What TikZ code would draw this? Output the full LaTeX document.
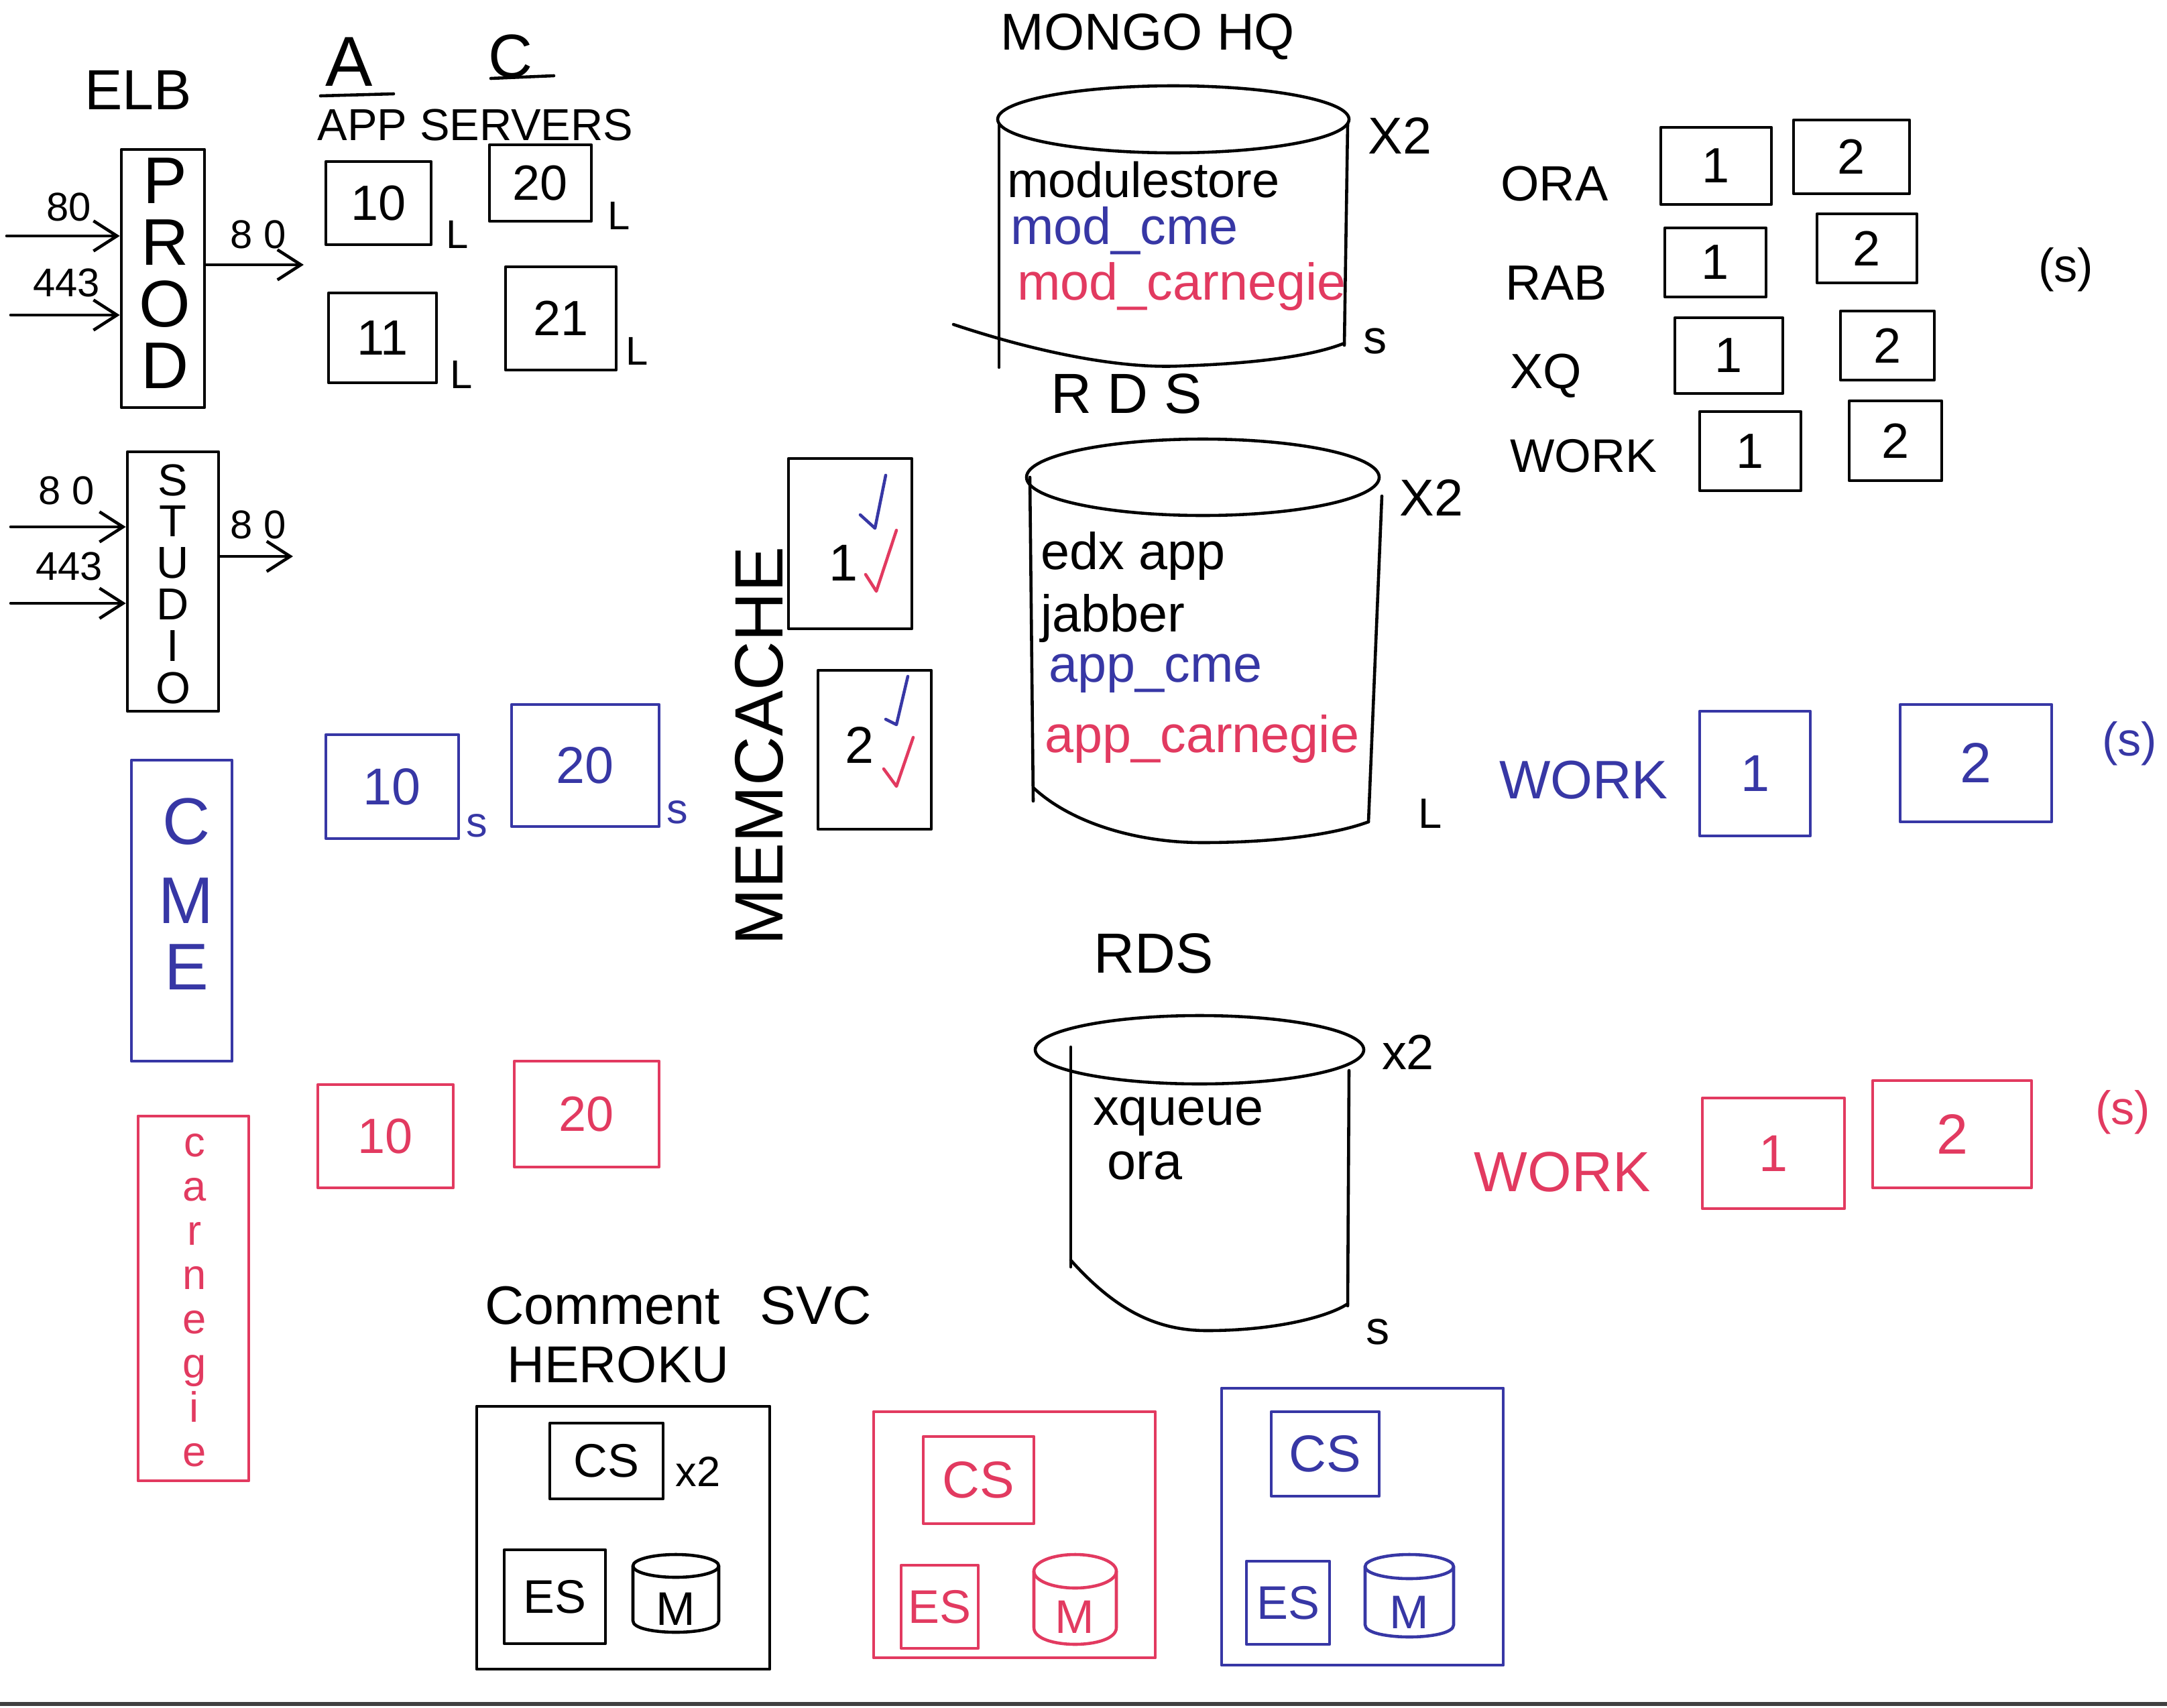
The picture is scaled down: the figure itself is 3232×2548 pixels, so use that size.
\documentclass[tikz,border=0pt]{standalone}
\usepackage{fontspec}
\setmainfont{Liberation Sans}
\usetikzlibrary{arrows.meta}
\definecolor{pblue}{RGB}{55,55,165}
\definecolor{pred}{RGB}{226,58,96}
\newcommand{\fs}[1]{\fontsize{#1}{#1}\selectfont}
% \mybox{name}{x1}{y1}{x2}{y2}{colour}{text}{font size}
\newcommand{\mybox}[8]{%
  \node[box,draw=#6,text=#6,font=\fs{#8},
        minimum width={(#4-#2)*0.1mm},minimum height={(#5-#3)*0.1mm}]
        (#1) at ({(#2+#4)/2},{(#3+#5)/2}) {#7};}
% \mycyl{left}{right}{top}{bottom}{ry}{colour}
\newcommand{\mycyl}[6]{%
  \draw[#6] ({(#1+#2)/2},{#3+#5}) ellipse [x radius={(#2-#1)/2}, y radius=#5];
  \draw[#6] (#1,{#3+#5}) -- (#1,{#4-#5}) .. controls (#1,{#4+#5/3}) and (#2,{#4+#5/3}) .. (#2,{#4-#5}) -- (#2,{#3+#5});}
\begin{document}
\begin{tikzpicture}[x=0.01cm,y=-0.01cm,line width=1.3pt,line cap=round,line join=round,
  box/.style={rectangle,inner sep=0pt},
  lbl/.style={inner sep=0pt},
  arr/.style={-{Straight Barb[length=3.5mm,width=4.5mm]}}]
\useasboundingbox (0,0) rectangle (3232,2548);
\fill[white] (0,0) rectangle (3232,2548);
\draw[black!75,line width=1.6pt] (0,2542) -- (3232,2542);

% ---------------- ELB ----------------
\node[lbl,font=\fs{24}] (elb) at (206,134) {ELB};
\mybox{prod}{181}{223}{305}{608}{black}{}{20}
\foreach \c [count=\i] in {P,R,O,D}
  \node[lbl,font=\fs{28}] (prod\i) at (246,{270+(\i-1)*92}) {\c};
\coordinate (pin1) at (10,352);
\coordinate (pin2) at (16,470);
\coordinate (pout) at (453,395);
\draw[arr] (pin1) -- (pin1 -| prod.west);
\draw[arr] (pin2) -- (pin2 -| prod.west);
\draw[arr] (pout -| prod.east) -- (pout);
\node[lbl,font=\fs{17}] (p80a) at (103,309) {80};
\node[lbl,font=\fs{17}] (p443) at (99,422) {443};
\node[lbl,font=\fs{17}] (p80b) at (385,350) {8 0};

\mybox{studio}{190}{674}{326}{1061}{black}{}{20}
\foreach \c [count=\i] in {S,T,U,D,I,O}
  \node[lbl,font=\fs{19}] (stu\i) at (258,{716+(\i-1)*62}) {\c};
\coordinate (sin1) at (16,786);
\coordinate (sin2) at (16,900);
\coordinate (sout) at (437,830);
\draw[arr] (sin1) -- (sin1 -| studio.west);
\draw[arr] (sin2) -- (sin2 -| studio.west);
\draw[arr] (sout -| studio.east) -- (sout);
\node[lbl,font=\fs{17}] (s80a) at (99,732) {8 0};
\node[lbl,font=\fs{17}] (s443) at (103,845) {443};
\node[lbl,font=\fs{17}] (s80b) at (385,783) {8 0};

% ---------------- app servers ----------------
\node[lbl,font=\fs{30}] (la) at (521,92) {A};
\draw (478,143) -- (587,140);
\node[lbl,font=\fs{26}] (lc) at (762,84) {C};
\draw (732,117) -- (826,113);
\node[lbl,font=\fs{19}] (appsrv) at (709,186) {APP SERVERS};
\mybox{a10}{486}{241}{643}{365}{black}{10}{21}
\mybox{a20}{730}{216}{882}{330}{black}{20}{21}
\mybox{a11}{490}{437}{651}{571}{black}{11}{21}
\mybox{a21}{754}{398}{919}{552}{black}{21}{21}
\node[lbl,font=\fs{17}] (la10) at (682,350) {L};
\node[lbl,font=\fs{17}] (la20) at (923,322) {L};
\node[lbl,font=\fs{17}] (la11) at (688,559) {L};
\node[lbl,font=\fs{17}] (la21) at (950,524) {L};

% ---------------- CME ----------------
\mybox{cme}{196}{1134}{346}{1583}{pblue}{}{20}
\foreach \c/\yy [count=\i] in {C/1226,M/1344,E/1443}
  \node[lbl,font=\fs{28},text=pblue] (cme\i) at (278,\yy) {\c};
\mybox{cme10}{486}{1096}{684}{1251}{pblue}{10}{22}
\mybox{cme20}{763}{1051}{983}{1233}{pblue}{20}{22}
\node[lbl,font=\fs{18},text=pblue] (scme10) at (711,1232) {s};
\node[lbl,font=\fs{18},text=pblue] (scme20) at (1010,1212) {s};

% ---------------- Carnegie ----------------
\mybox{carn}{206}{1665}{371}{2209}{pred}{}{20}
\foreach \c [count=\i] in {c,a,r,n,e,g,i,e}
  \node[lbl,font=\fs{18},text=pred,anchor=base] (car\i) at (290,{1725+(\i-1)*66}) {\c};
\mybox{car10}{474}{1618}{676}{1772}{pred}{10}{21}
\mybox{car20}{767}{1583}{983}{1741}{pred}{20}{21}

% ---------------- memcache ----------------
\node[lbl,font=\fs{29},rotate=90] (memc) at (1132,1113) {MEMCACHE};
\mybox{mc1}{1176}{684}{1360}{938}{black}{}{20}
\mybox{mc2}{1220}{1000}{1389}{1237}{black}{}{20}
\node[lbl,font=\fs{22}] (mc1t) at (1258,840) {1};
\node[lbl,font=\fs{22}] (mc2t) at (1282,1111) {2};
\draw[pblue] (1283,768) -- (1305,788) -- (1321,709);
\draw[pred] (1291,857) -- (1307,882) -- (1337,791);
\draw[pblue] (1321,1073) -- (1337,1081) -- (1354,1009);
\draw[pred] (1318,1147) -- (1337,1173) -- (1362,1100);

% ---------------- Mongo HQ ----------------
\node[lbl,font=\fs{22}] (mongo) at (1712,55) {MONGO HQ};
\draw (1750,178) ellipse [x radius=262, y radius=50];
\draw (1490,185) -- (1490,548);
\draw (2010,185) -- (2005,515);
\draw (1422,484) .. controls (1560,530) and (1680,550) .. (1760,546) .. controls (1880,542) and (1960,530) .. (2005,512);
\node[lbl,font=\fs{21},anchor=west] (modst) at (1500,268) {modulestore};
\node[lbl,font=\fs{22},anchor=west,text=pblue] (modcme) at (1505,344) {mod\_cme};
\node[lbl,font=\fs{22},anchor=west,text=pred] (modcar) at (1515,427) {mod\_carnegie};
\node[lbl,font=\fs{22}] (mx2) at (2088,202) {X2};
\node[lbl,font=\fs{20}] (ms) at (2051,509) {s};

% ---------------- RDS 1 ----------------
\node[lbl,font=\fs{24}] (rds1) at (1680,587) {R D S};
\draw (1794,712) ellipse [x radius=263, y radius=57];
\draw (1536,712) -- (1541,1195);
\draw (2061,740) -- (2041,1226);
\draw (1541,1175) .. controls (1600,1230) and (1700,1257) .. (1793,1257) .. controls (1900,1257) and (1990,1245) .. (2041,1226);
\node[lbl,font=\fs{22},anchor=west] (edx) at (1550,829) {edx app};
\node[lbl,font=\fs{22},anchor=west] (jab) at (1550,922) {jabber};
\node[lbl,font=\fs{22},anchor=west,text=pblue] (appcme) at (1562,1005) {app\_cme};
\node[lbl,font=\fs{22},anchor=west,text=pred] (appcar) at (1556,1102) {app\_carnegie};
\node[lbl,font=\fs{22}] (rx2) at (2135,742) {X2};
\node[lbl,font=\fs{18}] (rl) at (2133,1214) {L};

% ---------------- RDS 2 ----------------
\node[lbl,font=\fs{24}] (rds2) at (1721,1422) {RDS};
\draw (1789,1566) ellipse [x radius=245, y radius=51];
\draw (1597,1562) -- (1597,1890);
\draw (2012,1597) -- (2010,1948);
\draw (1597,1880) .. controls (1660,1950) and (1720,1985) .. (1800,1985) .. controls (1900,1985) and (1980,1965) .. (2010,1945);
\node[lbl,font=\fs{22},anchor=west] (xq) at (1628,1666) {xqueue};
\node[lbl,font=\fs{22},anchor=west] (ora) at (1649,1739) {ora};
\node[lbl,font=\fs{21}] (r2x2) at (2100,1570) {x2};
\node[lbl,font=\fs{20}] (r2s) at (2055,1987) {s};

% ---------------- workers ----------------
\node[lbl,font=\fs{21},anchor=west] (tora) at (2236,274) {ORA};
\node[lbl,font=\fs{21},anchor=west] (trab) at (2243,422) {RAB};
\node[lbl,font=\fs{21},anchor=west] (txq) at (2250,561) {XQ};
\node[lbl,font=\fs{20},anchor=west] (twork) at (2250,680) {WORK};
\mybox{ora1}{2477}{190}{2642}{305}{black}{1}{21}
\mybox{ora2}{2675}{179}{2848}{289}{black}{2}{21}
\mybox{rab1}{2483}{340}{2634}{443}{black}{1}{21}
\mybox{rab2}{2710}{319}{2859}{422}{black}{2}{21}
\mybox{xq1}{2498}{474}{2659}{587}{black}{1}{21}
\mybox{xq2}{2745}{464}{2885}{567}{black}{2}{21}
\mybox{wk1}{2535}{614}{2686}{732}{black}{1}{21}
\mybox{wk2}{2758}{598}{2896}{717}{black}{2}{21}
\node[lbl,font=\fs{20}] (ss1) at (3081,402) {(s)};

\node[lbl,font=\fs{23},text=pblue] (bwork) at (2362,1164) {WORK};
\mybox{wb1}{2535}{1061}{2700}{1247}{pblue}{1}{22}
\mybox{wb2}{2834}{1051}{3060}{1226}{pblue}{2}{24}
\node[lbl,font=\fs{20},text=pblue] (ss2) at (3176,1109) {(s)};

\node[lbl,font=\fs{24},text=pred] (rwork) at (2330,1748) {WORK};
\mybox{wr1}{2539}{1638}{2751}{1803}{pred}{1}{22}
\mybox{wr2}{2793}{1612}{3030}{1772}{pred}{2}{24}
\node[lbl,font=\fs{20},text=pred] (ss3) at (3166,1659) {(s)};

% ---------------- comment service ----------------
\node[lbl,font=\fs{23},anchor=west] (csvc) at (721,1948) {Comment\hspace{6mm}SVC};
\node[lbl,font=\fs{22}] (heroku) at (922,2036) {HEROKU};

\mybox{hk}{711}{2098}{1148}{2490}{black}{}{20}
\mybox{hkcs}{820}{2123}{989}{2236}{black}{CS}{20}
\node[lbl,font=\fs{18}] (hkx2) at (1041,2195) {x2};
\mybox{hkes}{752}{2312}{903}{2452}{black}{ES}{20}
\node[lbl,font=\fs{20}] (hkm) at (1008,2400) {M};
\mycyl{944}{1072}{2319}{2435}{17}{black}

\mybox{hr}{1303}{2106}{1723}{2473}{pred}{}{20}
\mybox{hrcs}{1377}{2143}{1542}{2273}{pred}{CS}{22}
\mybox{hres}{1344}{2335}{1459}{2459}{pred}{ES}{20}
\node[lbl,font=\fs{20},text=pred] (hrm) at (1603,2412) {M};
\mycyl{1542}{1665}{2319}{2453}{25}{pred}

\mybox{hb}{1822}{2071}{2242}{2484}{pblue}{}{20}
\mybox{hbcs}{1896}{2106}{2057}{2232}{pblue}{CS}{22}
\mybox{hbes}{1859}{2329}{1983}{2453}{pblue}{ES}{20}
\node[lbl,font=\fs{20},text=pblue] (hbm) at (2102,2405) {M};
\mycyl{2036}{2168}{2319}{2442}{18}{pblue}
\end{tikzpicture}
\end{document}
